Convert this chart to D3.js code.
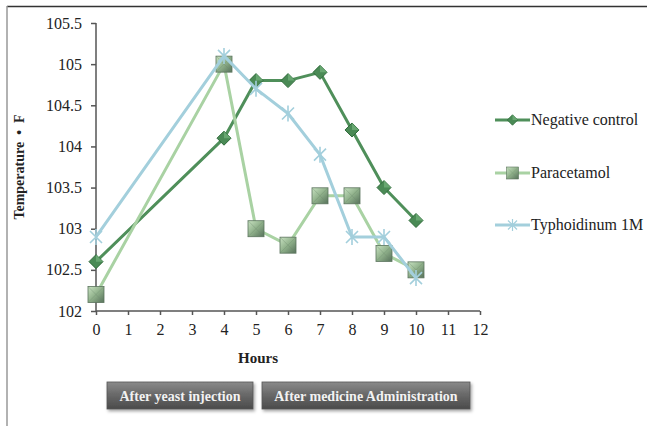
<!DOCTYPE html>
<html>
<head>
<meta charset="utf-8">
<script src="https://cdn.jsdelivr.net/npm/d3@7/dist/d3.min.js"></script>
<style>
  body { margin: 0; background: #fff; }
  svg { display: block; font-family: "Liberation Serif", "Times New Roman", serif; }
</style>
</head>
<body>
<svg id="chart" width="647" height="426"></svg>
<script>
// ─── Data ──────────────────────────────────────────────────────────────
const hours = [0, 4, 5, 6, 7, 8, 9, 10];
const negativeControl = [102.6, 104.1, 104.8, 104.8, 104.9, 104.2, 103.5, 103.1];
const paracetamol     = [102.2, 105.0, 103.0, 102.8, 103.4, 103.4, 102.7, 102.5];
const typhoidinum     = [102.9, 105.1, 104.7, 104.4, 103.9, 102.9, 102.9, 102.4];
const seriesNames = ["Negative control", "Paracetamol", "Typhoidinum 1M"];
const yTicks = [102, 102.5, 103, 103.5, 104, 104.5, 105, 105.5];
const xTicks = d3.range(0, 13);
const phaseLabels = ["After yeast injection", "After medicine Administration"];

const svg = d3.select("#chart");
const defs = svg.append("defs");

// square marker gradient (bevel look)
const grad = defs.append("linearGradient").attr("id", "sqGrad")
  .attr("x1", "0").attr("y1", "0").attr("x2", "1").attr("y2", "1");
grad.append("stop").attr("offset", "0%").attr("stop-color", "#c9e3c2");
grad.append("stop").attr("offset", "50%").attr("stop-color", "#8fb08a");
grad.append("stop").attr("offset", "100%").attr("stop-color", "#56715a");

const btnGrad = defs.append("linearGradient").attr("id", "btnGrad")
  .attr("x1", "0").attr("y1", "0").attr("x2", "0").attr("y2", "1");
btnGrad.append("stop").attr("offset", "0%").attr("stop-color", "#8a8a8a");
btnGrad.append("stop").attr("offset", "45%").attr("stop-color", "#6a6a6a");
btnGrad.append("stop").attr("offset", "100%").attr("stop-color", "#4a4a4a");

const shadow = defs.append("filter").attr("id", "shadow")
  .attr("x", "-10%").attr("y", "-20%").attr("width", "130%").attr("height", "160%");
shadow.append("feDropShadow").attr("dx", 1.5).attr("dy", 2).attr("stdDeviation", 1.5)
  .attr("flood-color", "#000").attr("flood-opacity", 0.35);

// ─── Frame ─────────────────────────────────────────────────────────────
svg.append("line").attr("x1", 7).attr("x2", 647).attr("y1", 6.5).attr("y2", 6.5)
  .attr("stroke", "#333").attr("stroke-width", 1.5);
svg.append("line").attr("x1", 7).attr("x2", 7).attr("y1", 6).attr("y2", 426)
  .attr("stroke", "#999").attr("stroke-width", 1.5);

// ─── Scales & axes ─────────────────────────────────────────────────────
const x = d3.scaleLinear().domain([0, 12]).range([96, 480]);
const y = d3.scaleLinear().domain([102, 105.5]).range([311, 23]);

const yAxis = svg.append("g").attr("transform", `translate(${x(0)},0)`)
  .call(d3.axisLeft(y).tickValues(yTicks).tickFormat(d3.format("")).tickSize(5).tickPadding(9));
const xAxis = svg.append("g").attr("transform", `translate(0,${y(102)})`)
  .call(d3.axisBottom(x).tickValues(xTicks).tickSize(4).tickPadding(9));

[yAxis, xAxis].forEach(g => {
  g.selectAll("path, line").attr("stroke", "#555").attr("stroke-width", 1.5);
  g.selectAll("text").attr("font-family", "Liberation Serif").attr("font-size", 16).attr("fill", "#222");
});
xAxis.select(".domain").attr("d", `M${x(0)},0H${x(12)}`);
yAxis.select(".domain").attr("d", `M0,${y(102)}V${y(105.5)}`);

svg.append("text").attr("transform", `translate(24,${(y(102) + y(105.5)) / 2}) rotate(-90)`)
  .attr("text-anchor", "middle").attr("font-weight", "bold").attr("font-size", 14).attr("fill", "#222")
  .text("Temperature  \u2022  F").attr("xml:space", "preserve").style("white-space", "pre");
svg.append("text").attr("x", 258).attr("y", 363).attr("text-anchor", "middle")
  .attr("font-weight", "bold").attr("font-size", 15).attr("fill", "#222").text("Hours");

// ─── Series ────────────────────────────────────────────────────────────
const series = [
  { name: seriesNames[0], values: negativeControl, color: "#4f8f5a", marker: "diamond" },
  { name: seriesNames[1], values: paracetamol,     color: "#a9d2a3", marker: "square" },
  { name: seriesNames[2], values: typhoidinum,     color: "#a3cfdc", marker: "star" }
];

const line = d3.line().x(d => x(d[0])).y(d => y(d[1]));

function drawMarker(g, type, color) {
  if (type === "diamond") {
    g.append("path").attr("d", "M0,-7L7,0L0,7L-7,0Z").attr("fill", "#4a8a55")
      .attr("stroke", "#2f6a3a").attr("stroke-width", 1);
    g.append("path").attr("d", "M0,-7L7,0L0,0Z").attr("fill", "#6fae78").attr("opacity", 0.8);
  } else if (type === "square") {
    g.append("rect").attr("x", -8).attr("y", -8).attr("width", 16).attr("height", 16)
      .attr("fill", "url(#sqGrad)").attr("stroke", "#5b735d").attr("stroke-width", 0.8);
    g.append("path").attr("d", "M-8,-8L8,8M8,-8L-8,8").attr("stroke", "#6d8a6e")
      .attr("stroke-width", 0.6).attr("opacity", 0.6);
  } else {
    g.append("path").attr("d", "M-6,-6L6,6M6,-6L-6,6M0,-8V8")
      .attr("stroke", color).attr("stroke-width", 1.6).attr("fill", "none");
  }
}

series.forEach(s => {
  const pts = hours.map((h, i) => [h, s.values[i]]);
  svg.append("path").datum(pts).attr("d", line).attr("fill", "none")
    .attr("stroke", s.color).attr("stroke-width", 3).attr("stroke-linejoin", "round");
  svg.append("g").selectAll("g").data(pts).join("g")
    .attr("transform", d => `translate(${x(d[0])},${y(d[1])})`)
    .each(function () { drawMarker(d3.select(this), s.marker, s.color); });
});

// ─── Legend ────────────────────────────────────────────────────────────
const legendY = [120, 173, 225];
series.forEach((s, i) => {
  const g = svg.append("g").attr("transform", `translate(495,${legendY[i]})`);
  g.append("line").attr("x1", 0).attr("x2", 35).attr("stroke", s.color).attr("stroke-width", 3);
  const m = g.append("g").attr("transform", "translate(17.5,0) scale(0.75)");
  drawMarker(m, s.marker, s.color);
  g.append("text").attr("x", 36).attr("y", 5).attr("font-size", 16).attr("fill", "#222").text(s.name);
});

// ─── Phase buttons ─────────────────────────────────────────────────────
const buttons = [
  { label: phaseLabels[0], x0: 107, x1: 253 },
  { label: phaseLabels[1], x0: 262, x1: 470 }
];
buttons.forEach(b => {
  const g = svg.append("g");
  g.append("rect").attr("x", b.x0).attr("y", 382).attr("width", b.x1 - b.x0).attr("height", 27)
    .attr("fill", "url(#btnGrad)").attr("stroke", "#555").attr("stroke-width", 0.8)
    .attr("filter", "url(#shadow)");
  g.append("text").attr("x", (b.x0 + b.x1) / 2).attr("y", 400.5).attr("text-anchor", "middle")
    .attr("font-weight", "bold").attr("font-size", 14).attr("fill", "#f2f2f2").text(b.label);
});
</script>
</body>
</html>
